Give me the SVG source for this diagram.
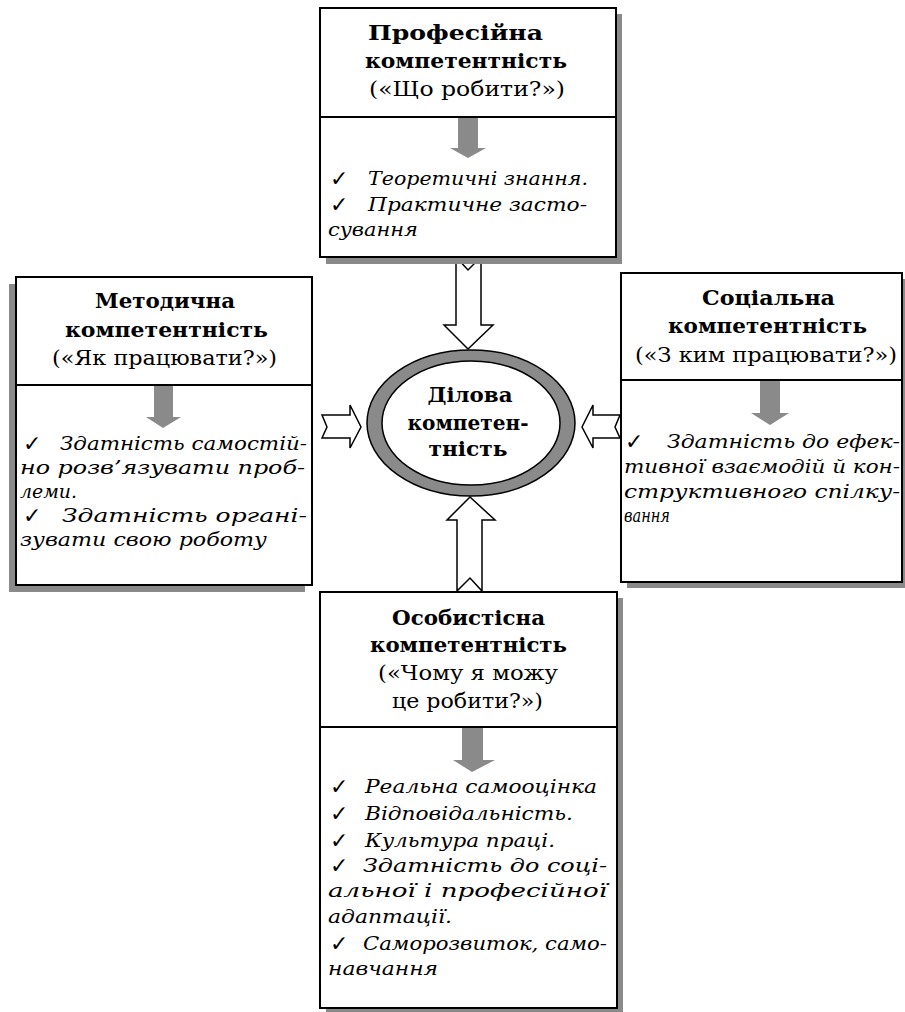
<svg xmlns="http://www.w3.org/2000/svg" width="905" height="1012" viewBox="0 0 905 1012">
<style>
.box{fill:#fff;stroke:#000;stroke-width:2}
.shadow{fill:#8a8a8a}
.div{stroke:#000;stroke-width:2}
.garrow{fill:#8a8a8a}
.harrow{fill:#fff;stroke:#000;stroke-width:1.5;stroke-linejoin:miter}
.t{font-family:"DejaVu Serif","Liberation Serif",serif;font-size:21px;font-weight:bold;fill:#000}
.q{font-family:"DejaVu Serif","Liberation Serif",serif;font-size:21px;fill:#000}
.i{font-family:"DejaVu Serif","Liberation Serif",serif;font-size:18px;font-style:italic;fill:#000}
.c{font-family:"DejaVu Sans",sans-serif;font-size:22px;fill:#000}
</style>
<rect width="905" height="1012" fill="#fff"/>

<g id="connectors">
<polygon class="harrow" points="456,257 468,270 481,257 481,325 493,325 468,349 444,325 456,325"/>
<polygon class="harrow" points="457,591 470,578 482,591 482,520 495,520 470,497 447,520 457,520"/>
<polygon class="harrow" points="322,415 327,427 322,438 350,438 350,448 361,427 350,405 350,415"/>
<polygon class="harrow" points="620,415 615,427 620,438 593,438 593,448 582,427 593,405 593,415"/>
</g>

<g id="professional">
<rect class="shadow" x="326" y="14" width="296" height="250"/>
<rect class="box" x="320" y="8" width="296" height="249"/>
<line class="div" x1="320" y1="117" x2="616" y2="117"/>
<polygon class="garrow" points="458,118 478,118 478,148 486,148 468,158 450,148 458,148"/>
<text class="t" x="368" y="40" textLength="175" lengthAdjust="spacingAndGlyphs">Професійна</text>
<text class="t" x="365" y="68" textLength="202" lengthAdjust="spacingAndGlyphs">компетентність</text>
<text class="q" x="369" y="96" textLength="196" lengthAdjust="spacingAndGlyphs">(«Що робити?»)</text>
<text class="c" x="330" y="186">✓</text>
<text class="i" x="368" y="185" textLength="220" lengthAdjust="spacingAndGlyphs">Теоретичні знання.</text>
<text class="c" x="330" y="212">✓</text>
<text class="i" x="368" y="211" textLength="219" lengthAdjust="spacingAndGlyphs">Практичне засто-</text>
<text class="i" x="328" y="236" textLength="90" lengthAdjust="spacingAndGlyphs">сування</text>
</g>

<g id="methodical">
<rect class="shadow" x="9" y="284" width="296" height="308"/>
<rect class="box" x="16" y="277" width="296" height="308"/>
<line class="div" x1="16" y1="385" x2="312" y2="385"/>
<polygon class="garrow" points="154,386 173,386 173,417 181,417 163,428 146,417 154,417"/>
<text class="t" x="95" y="308" textLength="140" lengthAdjust="spacingAndGlyphs">Методична</text>
<text class="t" x="65" y="337" textLength="203" lengthAdjust="spacingAndGlyphs">компетентність</text>
<text class="q" x="52" y="365" textLength="225" lengthAdjust="spacingAndGlyphs">(«Як працювати?»)</text>
<text class="c" x="23" y="451">✓</text>
<text class="i" x="60" y="450" textLength="247" lengthAdjust="spacingAndGlyphs">Здатність самостій-</text>
<text class="i" x="20" y="474" textLength="285" lengthAdjust="spacingAndGlyphs">но розв’язувати проб-</text>
<text class="i" x="20" y="498" textLength="57" lengthAdjust="spacingAndGlyphs">леми.</text>
<text class="c" x="23" y="523">✓</text>
<text class="i" x="62" y="522" textLength="245" lengthAdjust="spacingAndGlyphs">Здатність органі-</text>
<text class="i" x="20" y="546" textLength="247" lengthAdjust="spacingAndGlyphs">зувати свою роботу</text>
</g>

<g id="social">
<rect class="shadow" x="627" y="279" width="282" height="309"/>
<rect class="box" x="621" y="273" width="281" height="309"/>
<line class="div" x1="621" y1="380" x2="902" y2="380"/>
<polygon class="garrow" points="760,381 780,381 780,413 789,413 770,425 751,413 760,413"/>
<text class="t" x="702" y="305" textLength="133" lengthAdjust="spacingAndGlyphs">Соціальна</text>
<text class="t" x="668" y="333" textLength="199" lengthAdjust="spacingAndGlyphs">компетентність</text>
<text class="q" x="635" y="362" textLength="262" lengthAdjust="spacingAndGlyphs">(«З ким працювати?»)</text>
<text class="c" x="625" y="449">✓</text>
<text class="i" x="667" y="448" textLength="233" lengthAdjust="spacingAndGlyphs">Здатність до ефек-</text>
<text class="i" x="624" y="473" textLength="276" lengthAdjust="spacingAndGlyphs">тивної взаємодій й кон-</text>
<text class="i" x="624" y="498" textLength="276" lengthAdjust="spacingAndGlyphs">структивного спілку-</text>
<text class="i" x="624" y="522" textLength="46" lengthAdjust="spacingAndGlyphs">вання</text>
</g>

<g id="personal">
<rect class="shadow" x="326" y="598" width="297" height="416"/>
<rect class="box" x="320" y="592" width="297" height="416"/>
<line class="div" x1="320" y1="727" x2="617" y2="727"/>
<polygon class="garrow" points="462,728 483,728 483,760 495,760 472,772 453,760 462,760"/>
<text class="t" x="392" y="625" textLength="153" lengthAdjust="spacingAndGlyphs">Особистісна</text>
<text class="t" x="370" y="652" textLength="197" lengthAdjust="spacingAndGlyphs">компетентність</text>
<text class="q" x="378" y="680" textLength="180" lengthAdjust="spacingAndGlyphs">(«Чому я можу</text>
<text class="q" x="392" y="708" textLength="151" lengthAdjust="spacingAndGlyphs">це робити?»)</text>
<text class="c" x="330" y="794">✓</text>
<text class="i" x="365" y="793" textLength="232" lengthAdjust="spacingAndGlyphs">Реальна самооцінка</text>
<text class="c" x="330" y="821">✓</text>
<text class="i" x="365" y="820" textLength="208" lengthAdjust="spacingAndGlyphs">Відповідальність.</text>
<text class="c" x="330" y="848">✓</text>
<text class="i" x="365" y="847" textLength="190" lengthAdjust="spacingAndGlyphs">Культура праці.</text>
<text class="c" x="330" y="873">✓</text>
<text class="i" x="363" y="872" textLength="244" lengthAdjust="spacingAndGlyphs">Здатність до соці-</text>
<text class="i" x="328" y="897" textLength="279" lengthAdjust="spacingAndGlyphs">альної і професійної</text>
<text class="i" x="328" y="923" textLength="124" lengthAdjust="spacingAndGlyphs">адаптації.</text>
<text class="c" x="330" y="951">✓</text>
<text class="i" x="363" y="950" textLength="244" lengthAdjust="spacingAndGlyphs">Саморозвиток, само-</text>
<text class="i" x="328" y="975" textLength="110" lengthAdjust="spacingAndGlyphs">навчання</text>
</g>

<g id="business">
<ellipse cx="471" cy="423" rx="104" ry="73" fill="#8a8a8a" stroke="#000" stroke-width="1.5"/>
<ellipse cx="471" cy="423" rx="89" ry="62" fill="#fff" stroke="#000" stroke-width="1.5"/>
<text class="t" x="470" y="402" text-anchor="middle" textLength="85" lengthAdjust="spacingAndGlyphs">Ділова</text>
<text class="t" x="468" y="430" text-anchor="middle" textLength="121" lengthAdjust="spacingAndGlyphs">компетен-</text>
<text class="t" x="468" y="456" text-anchor="middle" textLength="79" lengthAdjust="spacingAndGlyphs">тність</text>
</g>
</svg>
